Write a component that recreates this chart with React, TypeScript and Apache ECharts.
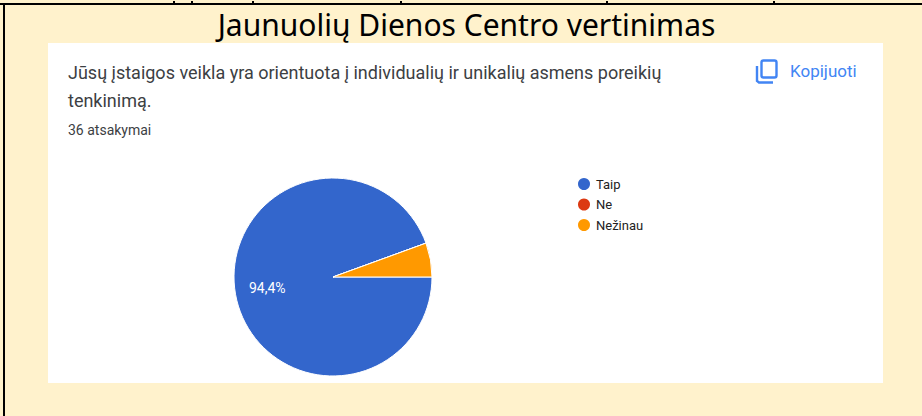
import React, { useEffect, useRef } from "react";
import * as echarts from "echarts";

const pageTitle = "Jaunuolių Dienos Centro vertinimas";
const questionLines = [
  "Jūsų įstaigos veikla yra orientuota į individualių ir unikalių asmens poreikių",
  "tenkinimą.",
];
const responseCount = "36 atsakymai";
const copyLabel = "Kopijuoti";
const categories = ["Taip", "Ne", "Nežinau"];
const answerCounts = [34, 0, 2];
const sliceColors = ["#3366cc", "#dc3912", "#ff9900"];
const labelledCategories = ["Taip"];

export default function App() {
  const ref = useRef<HTMLDivElement>(null);
  useEffect(() => {
    document.body.style.margin = "0";
    const chart = echarts.init(ref.current!, null, { renderer: "svg" });
    const bits = [173, 191, 252, 400, 606, 773];
    chart.setOption({
      animation: false,
      backgroundColor: "#fff2cc",
      title: {
        text: pageTitle,
        left: 461.5,
        top: 4,
        textAlign: "center",
        textStyle: { fontFamily: "Noto Sans", fontSize: 30, fontWeight: "normal", color: "#000" },
      },
      legend: {
        orient: "vertical",
        left: 571,
        top: 171,
        itemWidth: 14,
        itemHeight: 14,
        itemGap: 4.5,
        icon: "circle",
        selectedMode: false,
        data: categories,
        textStyle: { fontFamily: "Roboto", fontSize: 13, color: "#222" },
      },
      graphic: [
        { type: "rect", shape: { x: 0, y: 3, width: 922, height: 2 }, style: { fill: "#000" } },
        { type: "rect", shape: { x: 3, y: 3, width: 2, height: 413 }, style: { fill: "#000" } },
        ...bits.map((x) => ({
          type: "rect",
          shape: { x, y: 1, width: 2, height: 2 },
          style: { fill: "#000" },
        })),
        { type: "rect", shape: { x: 48, y: 43, width: 835, height: 340 }, style: { fill: "#fff" } },
        {
          type: "text",
          x: 68,
          y: 63,
          style: { text: questionLines[0], font: "18px Roboto", fill: "#3c4043" },
        },
        {
          type: "text",
          x: 68,
          y: 91,
          style: { text: questionLines[1], font: "18px Roboto", fill: "#3c4043" },
        },
        {
          type: "text",
          x: 68,
          y: 123,
          style: { text: responseCount, font: "14px Roboto", fill: "#3c4043" },
        },
        {
          type: "text",
          x: 790,
          y: 62,
          style: { text: copyLabel, font: "17px Roboto", fill: "#4285f4" },
        },
        {
          type: "rect",
          shape: { x: 761.5, y: 60.5, width: 15, height: 17, r: 2 },
          style: { fill: "none", stroke: "#4285f4", lineWidth: 2.4 },
        },
        {
          type: "polyline",
          shape: { points: [[757, 66], [757, 81], [759, 82.5], [773, 82.5]] },
          style: { fill: "none", stroke: "#4285f4", lineWidth: 2.4 },
        },
      ],
      series: [
        {
          type: "pie",
          center: [333, 277],
          radius: [0, 99],
          startAngle: 0,
          clockwise: true,
          silent: true,
          itemStyle: { borderColor: "#fff", borderWidth: 1 },
          labelLine: { show: false },
          data: categories.map((name, i) => ({
            name,
            value: answerCounts[i],
            itemStyle: { color: sliceColors[i] },
            label: { show: labelledCategories.includes(name) },
          })),
          label: {
            position: "inside",
            offset: [-14, 2],
            fontFamily: "Roboto",
            fontSize: 14,
            color: "#fff",
            formatter: (p: any) => `${p.percent.toFixed(1).replace(".", ",")}%`,
          },
        },
      ],
    });
    return () => chart.dispose();
  }, []);
  return <div ref={ref} style={{ width: 922, height: 416 }} />;
}
